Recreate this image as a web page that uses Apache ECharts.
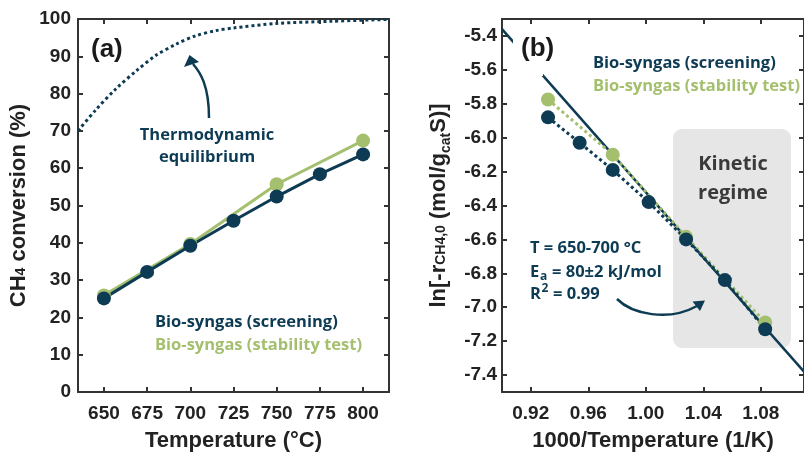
<!DOCTYPE html>
<html>
<head>
<meta charset="utf-8">
<title>CH4 conversion</title>
<script src="https://cdn.jsdelivr.net/npm/echarts@6/dist/echarts.min.js"></script>
<style>
html, body { margin: 0; padding: 0; background: #fff; }
#main { width: 804px; height: 457px; }
</style>
</head>
<body>
<div id="main"></div>
<script>
// panel (a): conversion vs temperature
var tempC = [650, 675, 700, 725, 750, 775, 800];
var convScreening = [25.1, 32.2, 39.2, 45.9, 52.4, 58.4, 63.7];
var tempStab = [650, 700, 750, 800];
var convStability = [25.9, 39.7, 55.7, 67.4];
var eqT = [635, 645, 657, 669, 680, 692, 703, 715, 725, 750, 782, 815];
var eqConv = [70, 75.5, 81.3, 86.2, 90.2, 93.3, 95.5, 96.9, 97.6, 98.8, 99.4, 99.9];
var ticksA_x = [650, 675, 700, 725, 750, 775, 800];

// panel (b): Arrhenius plot
var invT = [0.932, 0.954, 0.977, 1.002, 1.028, 1.055, 1.083];
var lnScreening = [-5.88, -6.03, -6.19, -6.38, -6.60, -6.84, -7.13];
var invTStab = [0.932, 0.977, 1.028, 1.083];
var lnStability = [-5.775, -6.10, -6.585, -7.09];
var fitX = [0.9, 1.11];
var fitY = [-5.36, -7.38];
var ticksB_x = [0.92, 0.96, 1.00, 1.04, 1.08];
var ticksB_y = [-7.4, -7.2, -7.0, -6.8, -6.6, -6.4, -6.2, -6.0, -5.8, -5.6, -5.4];

var dark = '#0d3b54';
var green = '#a4bf6e';
var axisCol = '#333';
var tickFont = 'Liberation Sans';
var annFont = 'Open Sans';

function zip(a, b) {
	var d = [];
	for (var i = 0; i < a.length; i++) d.push([a[i], b[i]]);
	return d;
}

function xAx(grid, pos, min, max, ticks, digits, show) {
	return {
		type: 'value', gridIndex: grid, position: pos, min: min, max: max,
		axisLine: { show: true, onZero: false, lineStyle: { color: axisCol, width: 2 } },
		axisTick: { show: true, inside: true, length: 5, customValues: ticks, lineStyle: { color: axisCol, width: 2 } },
		axisLabel: {
			show: show, customValues: ticks, margin: 12, color: '#222',
			fontFamily: tickFont, fontWeight: 'bold', fontSize: 19,
			formatter: function (v) { return digits ? v.toFixed(digits) : String(v); }
		},
		splitLine: { show: false }
	};
}

function yAx(grid, pos, min, max, ticks, interval, digits, show) {
	var ax = {
		type: 'value', gridIndex: grid, position: pos, min: min, max: max,
		axisLine: { show: true, onZero: false, lineStyle: { color: axisCol, width: 2 } },
		axisTick: { show: true, inside: true, length: 5, lineStyle: { color: axisCol, width: 2 } },
		axisLabel: {
			show: show, margin: 7, color: '#222',
			fontFamily: tickFont, fontWeight: 'bold', fontSize: 19,
			formatter: function (v) { return digits ? v.toFixed(digits) : String(v); }
		},
		splitLine: { show: false }
	};
	if (interval) ax.interval = interval;
	if (ticks) {
		ax.axisTick.customValues = ticks;
		ax.axisLabel.customValues = ticks;
	}
	return ax;
}

var xAxes = [
	xAx(0, 'bottom', 635, 815, ticksA_x, 0, true),
	xAx(0, 'top', 635, 815, ticksA_x, 0, false),
	xAx(1, 'bottom', 0.9, 1.11, ticksB_x, 2, true),
	xAx(1, 'top', 0.9, 1.11, ticksB_x, 2, false)
];
xAxes[0].name = 'Temperature (°C)';
xAxes[2].name = '1000/Temperature (1/K)';
[0, 2].forEach(function (i) {
	xAxes[i].nameLocation = 'middle';
	xAxes[i].nameGap = 38;
	xAxes[i].nameTextStyle = { fontFamily: tickFont, fontWeight: 'bold', fontSize: 22, color: '#222' };
});

var yAxes = [
	yAx(0, 'left', 0, 100, null, 10, 0, true),
	yAx(0, 'right', 0, 100, null, 10, 0, false),
	yAx(1, 'left', -7.5, -5.3, ticksB_y, null, 1, true),
	yAx(1, 'right', -7.5, -5.3, ticksB_y, null, 1, false)
];
yAxes[2].axisLabel.margin = 5;
yAxes[0].name = '{b|CH}{s|4}{b| conversion (%)}';
yAxes[2].name = '{b|ln[-r}{s|CH4,0}{b| (mol/g}{c|cat}{b|S)]}';
var nameRich = {
	b: { fontFamily: tickFont, fontWeight: 'bold', fontSize: 22, color: '#222', verticalAlign: 'bottom', padding: [0, 0, 4, 0] },
	s: { fontFamily: tickFont, fontWeight: 'bold', fontSize: 14, color: '#222', verticalAlign: 'bottom', padding: [0, 0, 6, 0] },
	c: { fontFamily: tickFont, fontWeight: 'bold', fontSize: 14, color: '#222', verticalAlign: 'bottom', padding: [0, 0, 1, 0] }
};
[0, 2].forEach(function (i) {
	yAxes[i].nameLocation = 'middle';
	yAxes[i].nameGap = i == 0 ? 44 : 48;
	yAxes[i].nameTextStyle = { rich: nameRich };
});

function txt(x, y, s, size, color, align, extra) {
	var o = {
		type: 'text', x: x, y: y, z: 20,
		style: {
			text: s, fill: color, fontSize: size, fontWeight: 600, fontFamily: annFont,
			textAlign: align || 'left', textVerticalAlign: 'middle'
		}
	};
	if (extra) for (var k in extra) o.style[k] = extra[k];
	return o;
}

var option = {
	animation: false,
	backgroundColor: '#fff',
	grid: [
		{ left: 78, top: 19, width: 311, height: 374 },
		{ left: 502, top: 19, width: 311, height: 374 }
	],
	xAxis: xAxes,
	yAxis: yAxes,
	graphic: [
		// kinetic regime box
		{ type: 'rect', z: 0, shape: { x: 673, y: 129, width: 118, height: 219, r: 9 }, style: { fill: '#e6e6e6' } },
		txt(733, 164, 'Kinetic', 20, '#3a3a3a', 'center', { fontWeight: 700 }),
		txt(733, 193, 'regime', 20, '#3a3a3a', 'center', { fontWeight: 700 }),
		// panel labels
		txt(91, 50, '(a)', 26, '#1a1a1a', 'left', { fontFamily: tickFont, fontWeight: 'bold' }),
		{ type: 'rect', z: 18, shape: { x: 513, y: 28, width: 30, height: 48 }, style: { fill: '#fff' } },
		txt(521, 49, '(b)', 26, '#1a1a1a', 'left', { fontFamily: tickFont, fontWeight: 'bold' }),
		// legends
		txt(155, 322, 'Bio-syngas (screening)', 16.5, dark, 'left', { fontWeight: 700 }),
		txt(155, 345, 'Bio-syngas (stability test)', 16.5, green, 'left', { fontWeight: 700 }),
		txt(593, 63, 'Bio-syngas (screening)', 16.5, dark, 'left', { fontWeight: 700 }),
		txt(593, 86, 'Bio-syngas (stability test)', 16.5, green, 'left', { fontWeight: 700 }),
		// thermodynamic equilibrium note
		txt(207, 135, 'Thermodynamic', 16.5, dark, 'center', { fontWeight: 700 }),
		txt(207, 157, 'equilibrium', 16.5, dark, 'center', { fontWeight: 700 }),
		{ type: 'bezierCurve', z: 20, shape: { x1: 209, y1: 118, cpx1: 209, cpy1: 85, cpx2: 200, cpy2: 72, x2: 193, y2: 64 }, style: { stroke: dark, lineWidth: 2.5, fill: null } },
		{ type: 'polygon', z: 20, shape: { points: [[189.5, 55], [184, 67], [199, 62]] }, style: { fill: dark } },
		// activation energy note
		txt(530, 248, 'T = 650-700 °C', 16.5, dark, 'left', { fontWeight: 700 }),
		txt(530, 272, 'E', 16.5, dark, 'left', { fontWeight: 700 }),
		txt(540, 277, 'a', 12, dark, 'left', { fontWeight: 700 }),
		txt(552, 272, '= 80±2 kJ/mol', 16.5, dark, 'left', { fontWeight: 700 }),
		txt(530, 294, 'R', 16.5, dark, 'left', { fontWeight: 700 }),
		txt(541.5, 289, '2', 12, dark, 'left', { fontWeight: 700 }),
		txt(553, 294, '= 0.99', 16.5, dark, 'left', { fontWeight: 700 }),
		{ type: 'bezierCurve', z: 20, shape: { x1: 617, y1: 299, cpx1: 632, cpy1: 314, cpx2: 668, cpy2: 322, x2: 697, y2: 306 }, style: { stroke: dark, lineWidth: 2.5, fill: null } },
		{ type: 'polygon', z: 20, shape: { points: [[705, 300.5], [692.5, 301.5], [700, 311]] }, style: { fill: dark } }
	],
	series: [
		{
			type: 'line', xAxisIndex: 0, yAxisIndex: 0, data: zip(eqT, eqConv),
			smooth: 0.3, showSymbol: false, clip: true,
			lineStyle: { color: dark, width: 3, type: [3, 3] }
		},
		{
			type: 'line', xAxisIndex: 0, yAxisIndex: 0, data: zip(tempStab, convStability),
			symbol: 'circle', symbolSize: 14, itemStyle: { color: green },
			lineStyle: { color: green, width: 3 }
		},
		{
			type: 'line', xAxisIndex: 0, yAxisIndex: 0, data: zip(tempC, convScreening),
			symbol: 'circle', symbolSize: 14, itemStyle: { color: dark },
			lineStyle: { color: dark, width: 3 }
		},
		{
			type: 'line', xAxisIndex: 2, yAxisIndex: 2, data: zip(fitX, fitY),
			showSymbol: false, clip: true,
			lineStyle: { color: dark, width: 2.5 }
		},
		{
			type: 'line', xAxisIndex: 2, yAxisIndex: 2, data: zip(invTStab, lnStability),
			symbol: 'circle', symbolSize: 14, itemStyle: { color: green },
			lineStyle: { color: green, width: 3, type: [3, 3] }
		},
		{
			type: 'line', xAxisIndex: 2, yAxisIndex: 2, data: zip(invT, lnScreening),
			symbol: 'circle', symbolSize: 14, itemStyle: { color: dark },
			lineStyle: { color: dark, width: 3, type: [3, 3] }
		}
	]
};

var chart = echarts.init(document.getElementById('main'));
chart.setOption(option);
</script>
</body>
</html>
